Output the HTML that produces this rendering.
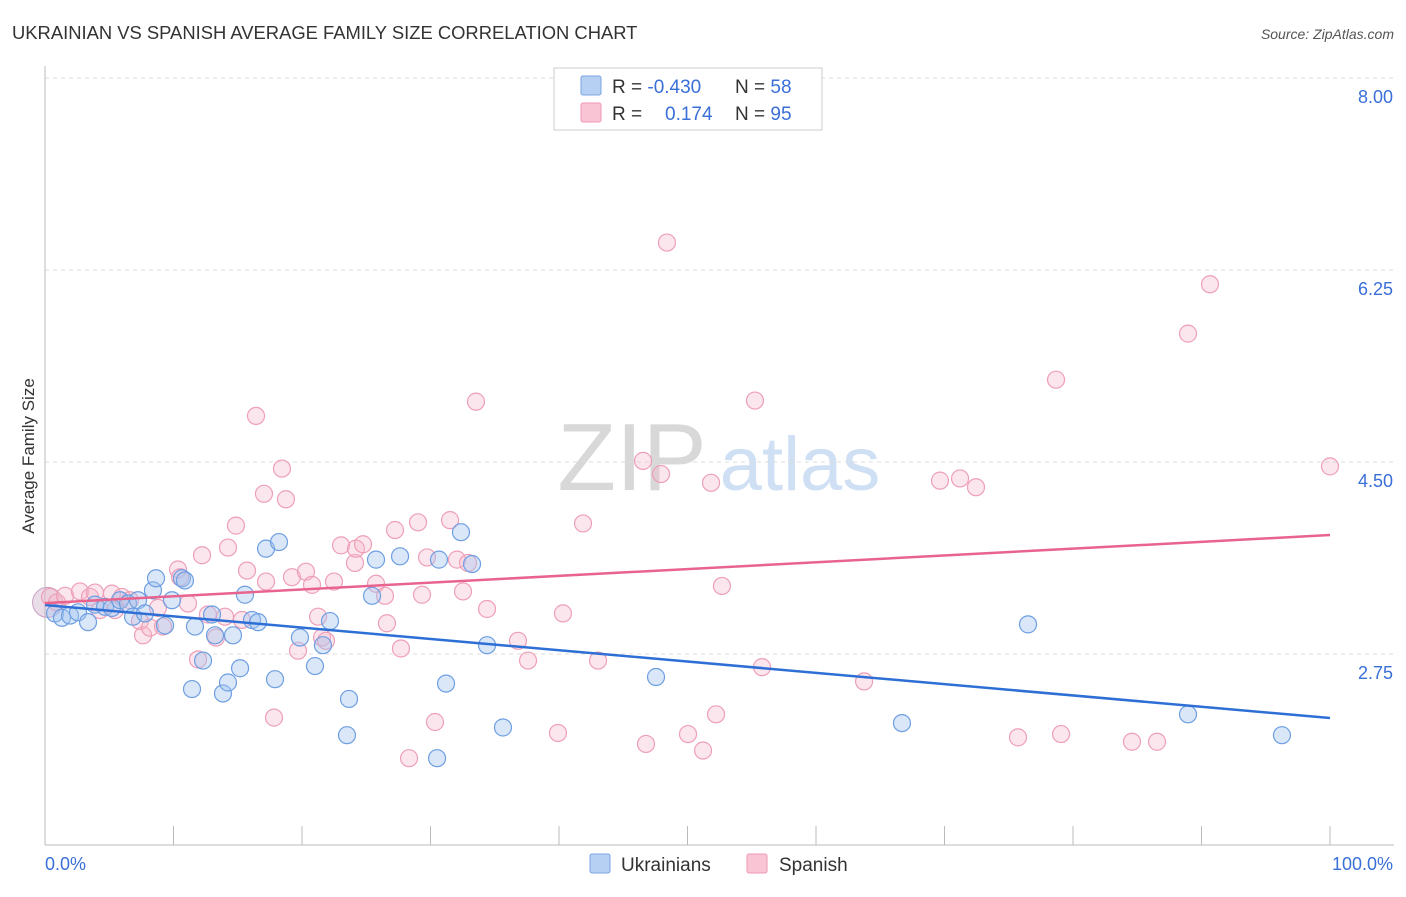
<!DOCTYPE html>
<html><head><meta charset="utf-8"><style>
body{margin:0;background:#fff;font-family:"Liberation Sans",sans-serif;}
svg text{font-family:"Liberation Sans",sans-serif;}
</style></head><body>
<svg id="chart" width="1406" height="892">
<text x="12" y="39" font-size="18.4" fill="#333">UKRAINIAN VS SPANISH AVERAGE FAMILY SIZE CORRELATION CHART</text>
<text x="1394" y="39" font-size="14" fill="#555" font-style="italic" text-anchor="end">Source: ZipAtlas.com</text>
<text transform="translate(34,456) rotate(-90)" font-size="17" fill="#333" text-anchor="middle">Average Family Size</text>
<g>
<text x="632" y="490" font-size="96" fill="#d8d8d8" font-family="Liberation Serif,serif" text-anchor="middle">ZIP</text>
<text x="800" y="490" font-size="76" fill="#cfe0f4" text-anchor="middle">atlas</text>
</g>
<g id="grid"></g><g id="axes"></g><g id="pts"></g><g id="lines"></g>
<g>
<rect x="554" y="68" width="268" height="62" fill="#fff" stroke="#ccc"/>
<rect x="581" y="76" width="20" height="19" fill="#b5d0f3" stroke="#7aa6e2" rx="2"/>
<rect x="581" y="103" width="20" height="19" fill="#f9c4d4" stroke="#ef9ab5" rx="2"/>
<text x="612" y="93" font-size="19" fill="#333">R = <tspan fill="#3a6fd8">-0.430</tspan><tspan x="735">N = </tspan><tspan fill="#3a6fd8">58</tspan></text>
<text x="612" y="120" font-size="19" fill="#333">R = <tspan x="665" fill="#3a6fd8">0.174</tspan><tspan x="735">N = </tspan><tspan fill="#3a6fd8">95</tspan></text>
</g>
<g>
<rect x="590" y="854" width="20" height="19" fill="#b5d0f3" stroke="#7aa6e2" rx="2"/>
<text x="621" y="871" font-size="19" fill="#333">Ukrainians</text>
<rect x="747" y="854" width="20" height="19" fill="#f9c4d4" stroke="#ef9ab5" rx="2"/>
<text x="779" y="871" font-size="19" fill="#333">Spanish</text>
</g>
</svg>
<script>
const yTicks=[2.75,4.50,6.25,8.00];
const yTickLabels=["2.75","4.50","6.25","8.00"];
const blueX=[0.78,1.32,1.95,2.57,3.35,3.89,4.67,5.21,5.84,6.46,6.85,7.24,7.78,8.40,8.64,9.34,9.88,10.66,10.89,11.44,11.67,12.30,13.00,13.23,13.85,14.24,14.63,15.18,15.56,16.11,16.58,17.20,17.90,18.21,19.84,21.01,21.63,22.18,23.66,23.50,25.45,25.76,27.63,30.51,30.66,31.21,32.37,33.23,34.40,35.64,47.55,66.69,76.50,88.95,96.26];
const blueY=[3.12,3.08,3.10,3.13,3.04,3.20,3.18,3.17,3.24,3.21,3.09,3.24,3.12,3.33,3.44,3.01,3.24,3.44,3.42,2.43,3.00,2.69,3.11,2.92,2.39,2.49,2.92,2.62,3.29,3.06,3.04,3.71,2.52,3.77,2.90,2.64,2.83,3.05,2.34,2.01,3.28,3.61,3.64,1.80,3.61,2.48,3.86,3.57,2.83,2.08,2.54,2.12,3.02,2.20,2.01];
const pinkX=[0.39,0.93,1.56,2.72,3.50,3.89,4.28,5.21,5.45,5.99,6.61,7.39,7.63,8.17,8.79,9.18,10.35,10.51,11.13,11.91,12.22,12.68,13.31,14.01,14.24,14.86,15.33,15.72,16.42,17.20,17.04,17.82,18.44,18.75,19.22,19.69,20.31,20.78,21.25,21.56,21.87,22.49,23.04,24.12,24.20,24.75,25.76,26.46,26.61,27.24,27.70,28.33,29.03,29.34,29.73,30.35,31.52,32.06,32.53,32.92,33.54,34.40,36.81,37.59,39.92,40.31,41.87,43.04,46.54,46.77,47.94,48.40,50.04,51.21,51.83,52.22,52.68,55.25,55.80,63.74,69.65,71.21,72.45,75.72,78.68,79.07,84.59,86.54,88.95,90.66,100.0];
const pinkY=[3.27,3.22,3.28,3.32,3.27,3.31,3.15,3.30,3.15,3.27,3.24,3.05,2.92,2.99,3.17,3.00,3.52,3.45,3.21,2.70,3.65,3.11,2.90,3.09,3.72,3.92,3.06,3.51,4.92,3.41,4.21,2.17,4.44,4.16,3.45,2.78,3.50,3.38,3.09,2.90,2.87,3.41,3.74,3.58,3.71,3.75,3.39,3.28,3.03,3.88,2.80,1.80,3.95,3.29,3.63,2.13,3.97,3.61,3.32,3.58,5.05,3.16,2.87,2.69,2.03,3.12,3.94,2.69,4.51,1.93,4.39,6.50,2.02,1.87,4.31,2.20,3.37,5.06,2.63,2.50,4.33,4.35,4.27,1.99,5.25,2.02,1.95,1.95,5.67,6.12,4.46];
const blueTrend=[3.196,2.166];
const pinkTrend=[3.214,3.834];
const NS="http://www.w3.org/2000/svg";
const X=v=>45+v*12.85;
const Y=v=>78+(8-v)*109.71;
function mk(t,a,p){const e=document.createElementNS(NS,t);for(const k in a)e.setAttribute(k,a[k]);p.appendChild(e);return e;}
const grid=document.getElementById('grid'),axes=document.getElementById('axes'),pts=document.getElementById('pts'),lines=document.getElementById('lines');
yTicks.forEach((t,i)=>{
 const g=mk('line',{x1:45,x2:1394,y1:Y(t),y2:Y(t),stroke:'#ddd','stroke-dasharray':'4,4'},grid);
 
 
 const l=mk('text',{x:1393,y:Y(t)+25,'font-size':18,fill:'#3a6fd8','text-anchor':'end'},grid);
 l.textContent=yTickLabels[i];
 
 
});
const ya=mk('line',{x1:45,x2:45,y1:66,y2:845,stroke:'#bbb'},axes);


const xa=mk('line',{x1:45,x2:1394,y1:845,y2:845,stroke:'#bbb'},axes);


for(let i=1;i<=10;i++){
 const tk=mk('line',{x1:X(i*10),x2:X(i*10),y1:826,y2:845,stroke:'#bbb'},axes);
 
 
}
const xl0=mk('text',{x:45,y:870,'font-size':18,fill:'#3a6fd8'},axes);xl0.textContent='0.0%';


const xl1=mk('text',{x:1393,y:870,'font-size':18,fill:'#3a6fd8','text-anchor':'end'},axes);xl1.textContent='100.0%';


function dots(xs,ys,fill,stroke,name){xs.forEach((x,i)=>{
 const c=mk('circle',{cx:X(x),cy:Y(ys[i]),r:8.5,fill:fill,stroke:stroke,'stroke-width':1.2},pts);
 
 
});}
const big1=mk('circle',{cx:X(0.2),cy:Y(3.22),r:15,fill:'rgba(200,170,200,0.4)',stroke:'#c9a0c0'},pts);


dots(pinkX,pinkY,'rgba(246,182,203,0.35)','#ee9fb8','spanish-point');
dots(blueX,blueY,'rgba(160,196,240,0.4)','#6e9fe2','ukrainian-point');
const bl=mk('line',{x1:X(0),x2:X(100),y1:Y(blueTrend[0]),y2:Y(blueTrend[1]),stroke:'#2e6fd6','stroke-width':2.5},lines);


const pl=mk('line',{x1:X(0),x2:X(100),y1:Y(pinkTrend[0]),y2:Y(pinkTrend[1]),stroke:'#e8648f','stroke-width':2.5},lines);


</script>
</body></html>
